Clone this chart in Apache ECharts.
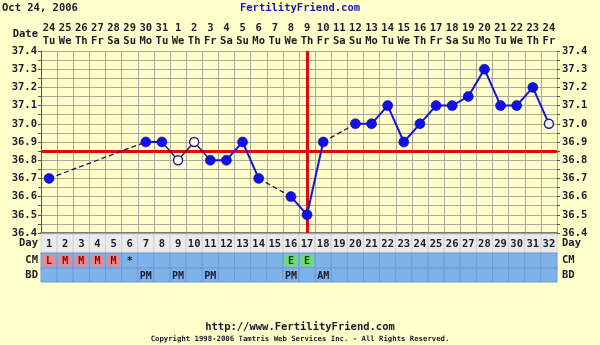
<!DOCTYPE html>
<html><head><meta charset="utf-8">
<script src="https://cdn.jsdelivr.net/npm/echarts@6/dist/echarts.min.js"></script>
<style>html,body{margin:0;padding:0;background:#ffffcc}#c{width:600px;height:345px}</style>
</head><body><div id="c"></div>
<script>
const days = ['1','2','3','4','5','6','7','8','9','10','11','12','13','14','15','16','17','18','19','20','21','22','23','24','25','26','27','28','29','30','31','32'];
const dateNums = ['24','25','26','27','28','29','30','31','1','2','3','4','5','6','7','8','9','10','11','12','13','14','15','16','17','18','19','20','21','22','23','24'];
const weekdays = ['Tu','We','Th','Fr','Sa','Su','Mo','Tu','We','Th','Fr','Sa','Su','Mo','Tu','We','Th','Fr','Sa','Su','Mo','Tu','We','Th','Fr','Sa','Su','Mo','Tu','We','Th','Fr'];
const temps = [36.7,null,null,null,null,null,36.9,36.9,36.8,36.9,36.8,36.8,36.9,36.7,null,36.6,36.5,36.9,null,37.0,37.0,37.1,36.9,37.0,37.1,37.1,37.15,37.3,37.1,37.1,37.2,37.0];
const openDays = [9,10,32];
const thinDays = [8,9,10,11];
const cm = ['L','M','M','M','M','*','','','','','','','','','','E','E','','','','','','','','','','','','','','',''];
const bd = ['','','','','','','PM','','PM','','PM','','','','','PM','','AM','','','','','','','','','','','','','',''];
const coverline = 36.85;
const ovulationDay = 17;
const yTicks = ['37.4','37.3','37.2','37.1','37.0','36.9','36.8','36.7','36.6','36.5','36.4'];
const rowLabels = ['Day','CM','BD'];

const FONT = 'DejaVu Sans Mono';
const TXT = '#1a1a2a';
const lbl = {fontFamily: FONT, fontWeight: 'bold', fontSize: 10.5, color: TXT};

const solidData = temps.map((v, i) => (openDays.includes(i + 1) && thinDays.includes(i + 1)) ? null : v);
const thinData = temps.map((v, i) => thinDays.includes(i + 1) ? v : null);
const filledData = temps.map((v, i) => openDays.includes(i + 1) ? null : v);
const openData = temps.map((v, i) => openDays.includes(i + 1) ? v : null);

// dashed bridges over gaps
const dashedSeries = [];
let last = -1;
temps.forEach((v, i) => {
  if (v == null) return;
  if (last >= 0 && i - last > 1) {
    const d = temps.map(() => null);
    d[last] = temps[last]; d[i] = v;
    dashedSeries.push({type: 'line', xAxisIndex: 0, yAxisIndex: 0, data: d, connectNulls: true, symbol: 'none',
      lineStyle: {color: '#14144a', width: 1.3, type: [5, 3]}, z: 3, silent: true});
  }
  last = i;
});

function cellRender(kind) {
  return function (params, api) {
    const i = params.dataIndex;
    const c = api.coord([i, 0]);
    const s = api.size([1, 1]);
    const w = s[0], h = s[1];
    const x = c[0] - w / 2, y = c[1] - h / 2;
    const ch = [];
    if (kind === 'day') {
      ch.push({type: 'rect', shape: {x: x, y: y, width: w, height: h}, style: {fill: '#ebebeb', stroke: '#d2d2d2', lineWidth: 1}});
      ch.push({type: 'text', style: {text: days[i], x: c[0], y: c[1] + 1, align: 'center', verticalAlign: 'middle', font: 'bold 10.5px "' + FONT + '"', fill: TXT}});
    } else {
      ch.push({type: 'rect', shape: {x: x, y: y, width: w, height: h}, style: {fill: '#80b2ea', stroke: '#6d9bd6', lineWidth: 1}});
      const t = kind === 'cm' ? cm[i] : bd[i];
      if (t === 'L' || t === 'M') {
        ch.push({type: 'rect', shape: {x: x + 1.5, y: y + 1.5, width: w - 3, height: h - 3}, style: {fill: '#e88a8a'}});
      } else if (t === 'E') {
        ch.push({type: 'rect', shape: {x: x + 1.5, y: y + 1.5, width: w - 3, height: h - 3}, style: {fill: '#70dc78'}});
      }
      if (t) {
        const col = (t === 'L' || t === 'M') ? '#8a0010' : (t === 'E' ? '#124a12' : TXT);
        ch.push({type: 'text', style: {text: t, x: c[0], y: c[1] + 1, align: 'center', verticalAlign: 'middle', font: 'bold 10px "' + FONT + '"', fill: col}});
      }
    }
    return {type: 'group', children: ch};
  };
}

const rowGrid = (top, h) => ({left: 41, width: 516, top: top, height: h});
const rowX = (gi, top) => ({type: 'category', gridIndex: gi, data: days, position: top ? 'top' : 'bottom',
  axisLine: {show: !!top, lineStyle: {color: '#2a3560', width: 1}}, axisTick: {show: false}, axisLabel: {show: false}, splitLine: {show: false}});
const rowY = (gi, name, pos) => ({type: 'category', gridIndex: gi, data: [name], position: pos,
  axisLine: {show: false}, axisTick: {show: false}, splitLine: {show: false},
  axisLabel: Object.assign({}, lbl, {margin: pos === 'left' ? 3 : 5, align: pos === 'left' ? 'right' : 'left'})});

const isMajor = v => Math.abs(v * 10 - Math.round(v * 10)) < 1e-6 && yTicks.includes(v.toFixed(1));
const yMain = pos => ({type: 'value', gridIndex: 0, position: pos, min: 36.4, max: 37.4, interval: 0.05,
  axisLine: {show: pos === 'left', lineStyle: {color: '#555', width: 1}},
  axisTick: {show: true, length: 3, lineStyle: {color: '#555'}},
  splitLine: {show: pos === 'left', lineStyle: {color: '#a9a89a', width: 1}},
  axisLabel: Object.assign({}, lbl, {margin: pos === 'left' ? 4 : 5, align: pos === 'left' ? 'right' : 'left',
    formatter: v => isMajor(v) ? v.toFixed(1) : ''})});

const option = {
  backgroundColor: '#ffffcc',
  animation: false,
  title: [
    {text: 'Oct 24, 2006', left: 2, top: 3, padding: 0, textStyle: {fontFamily: FONT, fontWeight: 'bold', fontSize: 10.5, color: TXT}},
    {text: 'FertilityFriend.com', left: 'center', top: 3, padding: 0, textStyle: {fontFamily: FONT, fontWeight: 'bold', fontSize: 10.5, color: '#1b1bab'}},
    {text: 'http://www.FertilityFriend.com', left: 'center', top: 322, padding: 0, textStyle: {fontFamily: FONT, fontWeight: 'bold', fontSize: 10.5, color: TXT}},
    {text: 'Copyright 1998-2006 Tamtris Web Services Inc. - All Rights Reserved.', left: 'center', top: 336, padding: 0, textStyle: {fontFamily: FONT, fontWeight: 'bold', fontSize: 7.3, color: TXT}}
  ],
  graphic: [
    {type: 'text', right: 562, top: 29, style: {text: 'Date', font: 'bold 10.5px "' + FONT + '"', fill: TXT}}
  ],
  grid: [
    {left: 41, width: 516, top: 51, height: 182},
    rowGrid(234, 19), rowGrid(253, 15), rowGrid(268, 14)
  ],
  xAxis: [
    {type: 'category', gridIndex: 0, data: days, position: 'bottom',
      axisLine: {show: true, lineStyle: {color: '#7a7a7a', width: 2}}, axisTick: {show: false}, axisLabel: {show: false},
      splitLine: {show: true, interval: 0, lineStyle: {color: '#a9a89a', width: 1}}},
    {type: 'category', gridIndex: 0, data: dateNums.map((n, i) => n + '\n' + weekdays[i]), position: 'top',
      axisLine: {show: false}, axisTick: {show: false}, splitLine: {show: false},
      axisLabel: Object.assign({}, lbl, {interval: 0, lineHeight: 13, margin: 3})},
    rowX(1, false), rowX(2, true), rowX(3, true)
  ],
  yAxis: [
    yMain('left'), yMain('right'),
    rowY(1, rowLabels[0], 'left'), rowY(1, rowLabels[0], 'right'),
    rowY(2, rowLabels[1], 'left'), rowY(2, rowLabels[1], 'right'),
    rowY(3, rowLabels[2], 'left'), rowY(3, rowLabels[2], 'right')
  ],
  series: [
    {type: 'line', xAxisIndex: 0, yAxisIndex: 0, data: solidData, symbol: 'none', connectNulls: false,
      lineStyle: {color: '#1515d8', width: 2}, z: 4, silent: true,
      markLine: {silent: true, symbol: 'none', label: {show: false}, z: 3,
        lineStyle: {color: '#e00a0a', width: 3, type: 'solid'},
        data: [{yAxis: coverline}, {xAxis: String(ovulationDay)}]}},
    {type: 'line', xAxisIndex: 0, yAxisIndex: 0, data: thinData, symbol: 'none', connectNulls: false,
      lineStyle: {color: '#1a1a60', width: 1.3}, z: 4, silent: true},
    ...dashedSeries,
    {type: 'scatter', xAxisIndex: 0, yAxisIndex: 0, data: filledData, symbol: 'circle', symbolSize: 10,
      itemStyle: {color: '#1010e8', opacity: 1, borderColor: '#10108a', borderWidth: 0.6}, z: 6, silent: true},
    {type: 'scatter', xAxisIndex: 0, yAxisIndex: 0, data: openData, symbol: 'circle', symbolSize: 9,
      itemStyle: {color: '#ffffff', opacity: 1, borderColor: '#1a1a80', borderWidth: 1.4}, z: 6, silent: true},
    {type: 'custom', xAxisIndex: 2, yAxisIndex: 2, data: days.map((d, i) => [i, 0]), renderItem: cellRender('day'), silent: true},
    {type: 'custom', xAxisIndex: 3, yAxisIndex: 4, data: days.map((d, i) => [i, 0]), renderItem: cellRender('cm'), silent: true},
    {type: 'custom', xAxisIndex: 4, yAxisIndex: 6, data: days.map((d, i) => [i, 0]), renderItem: cellRender('bd'), silent: true}
  ]
};
const chart = echarts.init(document.getElementById('c'));
chart.setOption(option);
</script>
</body></html>
